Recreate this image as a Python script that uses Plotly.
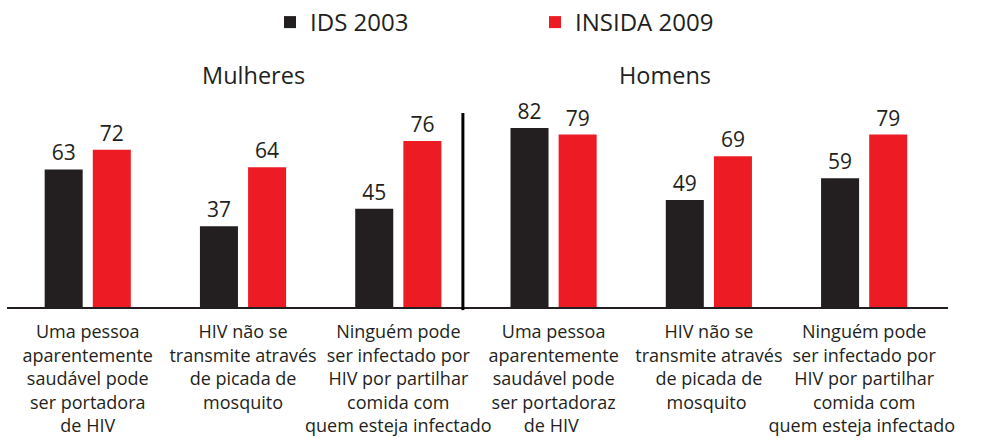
import plotly.graph_objects as go

categories = [
    "Uma pessoa<br>aparentemente<br>saudável pode<br>ser portadora<br>de HIV",
    "HIV não se<br>transmite através<br>de picada de<br>mosquito",
    "Ninguém pode<br>ser infectado por<br>HIV por partilhar<br>comida com<br>quem esteja infectado",
    "Uma pessoa<br>aparentemente<br>saudável pode<br>ser portadoraz<br>de HIV ",
    "HIV não se<br>transmite através<br>de picada de<br>mosquito ",
    "Ninguém pode<br>ser infectado por<br>HIV por partilhar<br>comida com<br>quem esteja infectado ",
]
ids_2003 = [63, 37, 45, 82, 49, 59]
insida_2009 = [72, 64, 76, 79, 69, 79]
series_names = ["IDS 2003", "INSIDA 2009"]
group_titles = ["Mulheres", "Homens"]

BLACK = "#231f20"
RED = "#ed1c24"
FONT = "Open Sans"

fig = go.Figure()
fig.add_trace(go.Bar(x=categories, y=ids_2003, name=series_names[0],
                     marker=dict(color=BLACK, line=dict(width=0)),
                     text=ids_2003, textposition="outside", cliponaxis=False,
                     textfont=dict(size=21, color=BLACK, family=FONT)))
fig.add_trace(go.Bar(x=categories, y=insida_2009, name=series_names[1],
                     marker=dict(color=RED, line=dict(width=0)),
                     text=insida_2009, textposition="outside", cliponaxis=False,
                     textfont=dict(size=21, color=BLACK, family=FONT)))

fig.update_layout(
    width=995, height=438,
    margin=dict(l=7, r=47, t=100, b=131, autoexpand=False),
    paper_bgcolor="white", plot_bgcolor="white",
    barmode="group", bargap=0.38, bargroupgap=0.21,
    font=dict(family=FONT, color=BLACK),
    showlegend=True,
    legend=dict(orientation="h", x=0.2795, y=1.0, yref="container", xanchor="left", yanchor="top",
                entrywidth=220, entrywidthmode="pixels",
                font=dict(size=24, color=BLACK, family=FONT), itemclick=False),
    xaxis=dict(range=[-0.52, 5.54], showgrid=False, showline=True, linecolor=BLACK,
               linewidth=1.5, ticks="", tickfont=dict(size=18, color=BLACK, family=FONT),
               tickangle=0, zeroline=False, automargin=False, ticklabelstandoff=8),
    yaxis=dict(range=[0, 94.8], visible=False, showgrid=False, zeroline=False, automargin=False),
)

fig.add_annotation(text=group_titles[0], xref="paper", yref="paper", x=0.262, y=1.12,
                   showarrow=False, font=dict(size=23.5, color=BLACK, family=FONT),
                   xanchor="center", yanchor="middle")
fig.add_annotation(text=group_titles[1], xref="paper", yref="paper", x=0.699, y=1.12,
                   showarrow=False, font=dict(size=23.5, color=BLACK, family=FONT),
                   xanchor="center", yanchor="middle")

fig.add_shape(type="line", xref="x", yref="paper", x0=2.416, x1=2.416, y0=-0.015, y1=0.937,
              line=dict(color="black", width=3))

fig.write_html("out.html", config={"displayModeBar": False},
               post_script="document.body.style.margin='0';document.body.style.overflow='hidden';")
